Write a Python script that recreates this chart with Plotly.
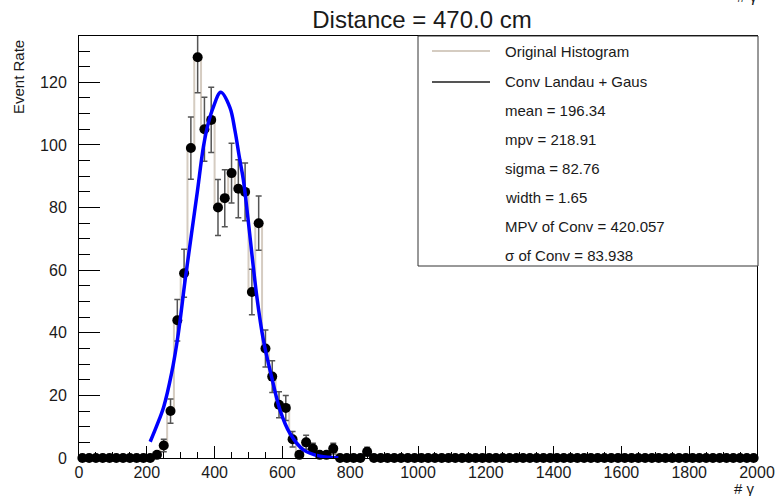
import math
import plotly.graph_objects as go

# ---------------- data ----------------
bin_centers = [10 + 20 * i for i in range(100)]  # 20-unit bins from 0 to 2000
counts = [
    0, 0, 0, 0, 0, 0, 0, 0, 0, 0,
    0, 1, 4, 15, 44, 59, 99, 128, 105, 108,
    80, 83, 91, 86, 85, 53, 75, 35, 26, 17,
    16, 6, 1, 5, 3, 1, 1, 3, 0, 0,
    0, 0, 2, 0, 0, 0, 0, 0, 0, 0,
    0, 0, 0, 0, 0, 0, 0, 0, 0, 0,
    0, 0, 0, 0, 0, 0, 0, 0, 0, 0,
    0, 0, 0, 0, 0, 0, 0, 0, 0, 0,
    0, 0, 0, 0, 0, 0, 0, 0, 0, 0,
    0, 0, 0, 0, 0, 0, 0, 0, 0, 0,
]

fit_x = [210, 230, 250, 273, 293, 313, 332, 349, 367, 381, 396, 418, 445,
         460, 473, 485, 499, 524, 544, 568, 593, 622, 662, 711, 765]
fit_y = [5.2, 10.5, 16.4, 27.0, 39.8, 56.8, 71.7, 85.0, 99.4, 106.8, 112.0,
         116.8, 112.0, 104.6, 96.1, 88.7, 76.0, 52.0, 37.6, 26.0, 15.3, 7.9,
         2.6, 0.6, 0.1]

x_ticks = [0, 200, 400, 600, 800, 1000, 1200, 1400, 1600, 1800, 2000]
y_ticks = [0, 20, 40, 60, 80, 100, 120]

title_text = "Distance = 470.0 cm"
x_title = "# γ"
y_title = "Event Rate"
legend_lines = ["Original Histogram", "Conv Landau + Gaus"]
legend_stats = ["mean = 196.34", "mpv = 218.91", "sigma = 82.76", "width = 1.65",
                "MPV of Conv = 420.057", "σ of Conv = 83.938"]

# ---------------- styling ----------------
FONT = "Liberation Sans, Arial, Helvetica, sans-serif"
HIST_COLOR = "#d5ccc1"
ERR_COLOR = "#555555"
FIT_COLOR = "#0000ff"
W, H = 779, 496
ML, MR, MT, MB = 79, 22, 36, 38
PW, PH = W - ML - MR, H - MT - MB


def px_x(p):
    return (p - ML) / PW


def px_y(p):
    return (H - MB - p) / PH


errs = [math.sqrt(c) if c > 0 else None for c in counts]

fig = go.Figure()

# original histogram (step line)
fig.add_trace(go.Scatter(
    x=bin_centers, y=counts, mode="lines",
    line=dict(color=HIST_COLOR, width=2, shape="hvh"),
    showlegend=False, hoverinfo="skip"))

# error bars (clipped to the frame)
fig.add_trace(go.Scatter(
    x=bin_centers, y=counts, mode="markers",
    marker=dict(size=1, opacity=0),
    error_y=dict(type="data", array=errs, visible=True, color=ERR_COLOR,
                 thickness=1.5, width=3),
    cliponaxis=True, showlegend=False, hoverinfo="skip"))

# markers
fig.add_trace(go.Scatter(
    x=bin_centers, y=counts, mode="markers",
    marker=dict(color="black", size=10),
    cliponaxis=False, showlegend=False))

# fit curve
fig.add_trace(go.Scatter(
    x=fit_x, y=fit_y, mode="lines",
    line=dict(color=FIT_COLOR, width=3.5, shape="spline"),
    showlegend=False))

# ---------------- legend box (drawn like ROOT's TLegend) ----------------
shapes = [
    dict(type="rect", xref="paper", yref="paper",
         x0=px_x(418), x1=px_x(758), y0=px_y(266), y1=px_y(36),
         line=dict(color="#333333", width=1), fillcolor="white", layer="above"),
    dict(type="line", xref="paper", yref="paper",
         x0=px_x(432), x1=px_x(490), y0=px_y(51), y1=px_y(51),
         line=dict(color=HIST_COLOR, width=2), layer="above"),
    dict(type="line", xref="paper", yref="paper",
         x0=px_x(432), x1=px_x(490), y0=px_y(82), y1=px_y(82),
         line=dict(color="#555555", width=2), layer="above"),
]

annotations = []
rows = legend_lines + legend_stats
for i, txt in enumerate(rows):
    annotations.append(dict(
        text=txt, xref="paper", yref="paper", x=px_x(503), y=px_y(52 + 29.1 * i),
        xanchor="left", yanchor="middle", showarrow=False,
        font=dict(family=FONT, size=15, color="#1a1a1a")))

# axis titles
annotations.append(dict(
    text=x_title, xref="paper", yref="paper", x=1.0, y=px_y(488),
    xanchor="right", yanchor="middle", showarrow=False,
    font=dict(family=FONT, size=15, color="#1a1a1a")))
annotations.append(dict(
    text=y_title, xref="paper", yref="paper", x=px_x(18), y=px_y(38),
    xanchor="center", yanchor="top", textangle=-90, showarrow=False,
    font=dict(family=FONT, size=15, color="#1a1a1a")))
# partially cropped duplicate axis title at the very top-right of the image
annotations.append(dict(
    text=x_title, xref="paper", yref="paper", x=px_x(760), y=px_y(-3),
    xanchor="right", yanchor="middle", showarrow=False,
    font=dict(family=FONT, size=15, color="#1a1a1a")))

fig.update_layout(
    width=W, height=H,
    margin=dict(l=ML, r=MR, t=MT, b=MB, pad=0, autoexpand=False),
    paper_bgcolor="white", plot_bgcolor="white",
    font=dict(family=FONT, size=16, color="#1a1a1a"),
    title=dict(text=title_text, x=px_x(422), xref="paper", xanchor="center",
               y=1 - 20 / H, yref="container", yanchor="middle",
               font=dict(family=FONT, size=24, color="#1a1a1a")),
    shapes=shapes, annotations=annotations, showlegend=False,
)

fig.update_xaxes(
    range=[0, 2000], tickmode="array", tickvals=x_ticks, automargin=False,
    ticks="inside", ticklen=12, tickwidth=1, tickcolor="black",
    minor=dict(ticks="inside", ticklen=6, dtick=50, tick0=0, tickcolor="black", showgrid=False),
    showline=True, linecolor="black", linewidth=1, mirror=True,
    showgrid=False, zeroline=False, tickfont=dict(family=FONT, size=16),
)
fig.update_yaxes(
    range=[0, 134.8], tickmode="array", tickvals=y_ticks, automargin=False,
    ticks="inside", ticklen=21, tickwidth=1, tickcolor="black",
    minor=dict(ticks="inside", ticklen=11, dtick=5, tick0=0, tickcolor="black", showgrid=False),
    showline=True, linecolor="black", linewidth=1, mirror=True,
    showgrid=False, zeroline=False, tickfont=dict(family=FONT, size=16),
    ticklabelstandoff=8,
)

fig.write_html("out.html")
